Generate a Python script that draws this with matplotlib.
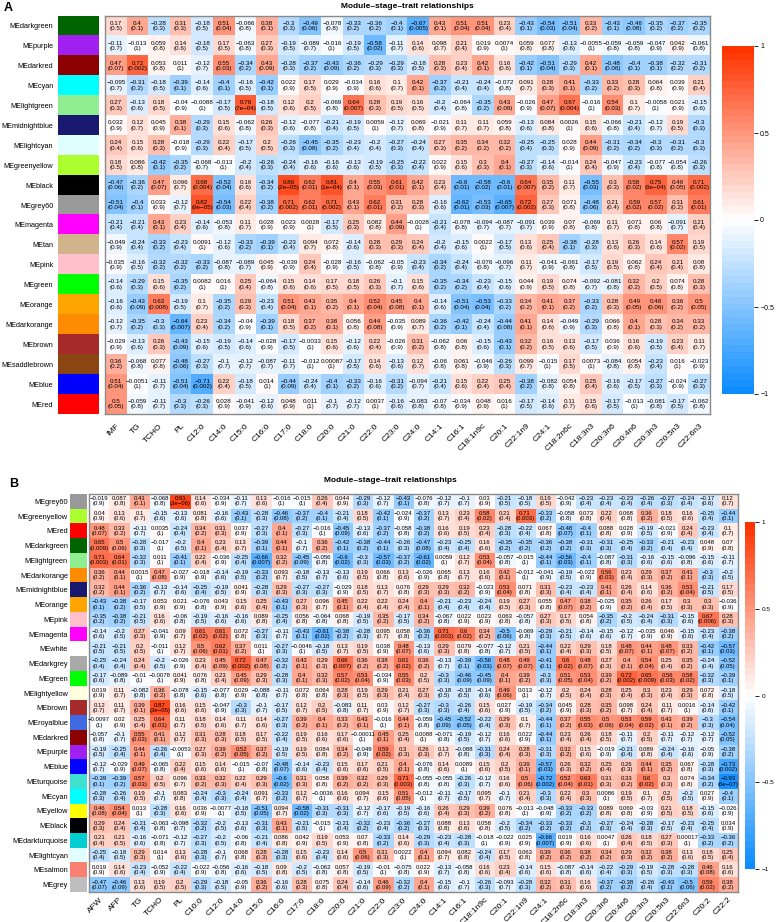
import numpy as np
import matplotlib
matplotlib.use("Agg")
import matplotlib.pyplot as plt
from matplotlib.colors import LinearSegmentedColormap, to_rgb
from matplotlib.cm import ScalarMappable
from matplotlib.colors import Normalize

plt.rcParams['font.family'] = ['Liberation Sans', 'DejaVu Sans']

W, H = 780, 922

# R colour names (WGCNA module colours)
r_colors = {
    'darkgreen': '#006400', 'purple': '#A020F0', 'darkred': '#8B0000', 'cyan': '#00FFFF',
    'lightgreen': '#90EE90', 'midnightblue': '#191970', 'lightcyan': '#E0FFFF',
    'greenyellow': '#ADFF2F', 'black': '#000000', 'grey60': '#999999', 'magenta': '#FF00FF',
    'tan': '#D2B48C', 'pink': '#FFC0CB', 'green': '#00FF00', 'orange': '#FFA500',
    'darkorange': '#FF8C00', 'brown': '#A52A2A', 'saddlebrown': '#8B4513', 'blue': '#0000FF',
    'red': '#FF0000', 'white': '#FFFFFF', 'darkgrey': '#A9A9A9', 'lightyellow': '#FFFFE0',
    'royalblue': '#4169E1', 'turquoise': '#40E0D0', 'yellow': '#FFFF00',
    'darkturquoise': '#00CED1', 'salmon': '#FA8072', 'grey': '#BEBEBE',
}

# ---------------- panel A ----------------
modules_a = ['darkgreen', 'purple', 'darkred', 'cyan', 'lightgreen', 'midnightblue', 'lightcyan',
             'greenyellow', 'black', 'grey60', 'magenta', 'tan', 'pink', 'green', 'orange',
             'darkorange', 'brown', 'saddlebrown', 'blue', 'red']
traits_a = ['IMF', 'TG', 'TCHO', 'PL', 'C12:0', 'C14:0', 'C15:0', 'C16:0', 'C17:0', 'C18:0',
            'C20:0', 'C21:0', 'C22:0', 'C23:0', 'C24:0', 'C14:1', 'C16:1', 'C18:1n9c', 'C20:1',
            'C22:1n9', 'C24:1', 'C18:2n6c', 'C18:3n3', 'C20:3n6', 'C20:4n6', 'C20:3n3',
            'C20:5n3', 'C22:6n3']
cor_a = [
    [0.17, 0.4, -0.28, 0.31, -0.18, 0.51, -0.066, 0.38, -0.3, -0.49, -0.078, -0.33, -0.36, -0.4, -0.67, 0.43, 0.51, 0.51, 0.23, -0.43, -0.54, -0.51, 0.33, -0.43, -0.46, -0.35, -0.37, -0.35],
    [-0.11, -0.013, 0.059, 0.14, -0.18, 0.17, -0.063, 0.27, -0.19, -0.089, -0.016, -0.19, -0.58, -0.11, 0.14, 0.098, 0.21, 0.019, 0.0074, 0.059, 0.077, -0.13, -0.0055, -0.059, -0.059, -0.047, 0.042, -0.061],
    [0.47, 0.72, 0.053, 0.011, -0.12, 0.55, -0.34, 0.43, -0.28, -0.37, -0.43, -0.36, -0.29, -0.29, -0.18, 0.28, 0.23, 0.42, 0.16, -0.42, -0.51, -0.29, 0.42, -0.48, -0.4, -0.38, -0.32, -0.31],
    [-0.095, -0.31, -0.18, -0.39, -0.14, -0.4, -0.16, -0.42, 0.022, 0.17, 0.029, -0.034, 0.16, 0.1, 0.42, -0.37, -0.21, -0.24, -0.072, 0.091, 0.28, 0.41, -0.33, 0.33, 0.28, 0.064, 0.039, 0.21],
    [0.27, -0.13, 0.18, -0.04, -0.0088, -0.17, 0.76, -0.18, 0.12, 0.2, -0.069, 0.64, 0.28, 0.19, 0.16, -0.2, -0.064, -0.35, 0.43, -0.026, 0.47, 0.67, -0.016, 0.54, 0.1, -0.0058, 0.021, -0.15],
    [0.032, 0.12, 0.045, 0.38, -0.29, 0.15, -0.062, 0.26, -0.12, -0.077, -0.21, -0.19, 0.0059, -0.12, 0.069, -0.021, 0.11, 0.11, 0.059, -0.13, 0.084, 0.0026, 0.15, -0.066, -0.21, -0.12, 0.19, -0.3],
    [0.24, 0.15, 0.28, -0.018, -0.29, 0.22, -0.17, 0.2, -0.26, -0.45, -0.35, -0.23, -0.2, -0.27, -0.24, 0.27, 0.35, 0.34, 0.32, -0.25, -0.25, 0.028, 0.44, -0.31, -0.34, -0.3, -0.31, -0.3],
    [0.18, 0.086, -0.42, -0.35, -0.068, -0.013, -0.2, -0.26, -0.24, -0.16, -0.16, -0.13, -0.19, -0.25, -0.22, 0.022, 0.15, 0.3, 0.4, -0.27, -0.14, -0.014, 0.24, -0.047, -0.23, -0.077, -0.054, -0.26],
    [-0.47, -0.36, 0.47, 0.096, 0.68, -0.52, 0.16, -0.34, 0.86, 0.62, 0.81, 0.4, 0.55, 0.61, 0.42, 0.23, -0.6, -0.58, -0.6, 0.64, 0.35, 0.11, -0.55, 0.3, 0.58, 0.75, 0.49, 0.71],
    [-0.51, -0.4, 0.033, -0.12, 0.82, -0.54, 0.22, -0.38, 0.71, 0.62, 0.71, 0.43, 0.62, 0.31, 0.28, -0.16, -0.62, -0.53, -0.65, 0.72, 0.27, 0.071, -0.48, 0.21, 0.59, 0.57, 0.31, 0.61],
    [-0.21, -0.21, 0.43, 0.23, -0.14, -0.053, 0.11, 0.028, 0.023, 0.0028, -0.17, 0.25, 0.082, 0.44, -0.0028, -0.21, -0.078, -0.094, -0.087, -0.091, 0.039, 0.07, -0.069, 0.11, 0.071, 0.06, -0.091, 0.21],
    [-0.049, -0.24, -0.33, -0.23, 0.0091, -0.12, -0.33, -0.39, -0.23, 0.094, 0.072, -0.14, 0.28, 0.29, 0.24, -0.2, -0.15, 0.0022, -0.17, 0.13, 0.25, -0.38, -0.28, 0.13, 0.26, 0.14, 0.57, 0.19],
    [-0.035, -0.16, -0.32, -0.32, -0.33, -0.087, -0.089, 0.045, -0.039, 0.24, -0.028, -0.16, -0.062, -0.05, -0.23, -0.34, -0.24, -0.076, -0.096, 0.11, -0.041, -0.061, -0.17, 0.19, 0.062, 0.24, 0.21, 0.08],
    [-0.14, -0.29, 0.15, -0.35, 0.0082, 0.016, 0.25, -0.064, 0.15, 0.14, 0.17, 0.18, 0.26, -0.1, 0.15, -0.35, -0.34, -0.23, -0.15, 0.044, 0.19, 0.074, -0.092, -0.081, 0.32, 0.2, 0.074, 0.28],
    [-0.16, -0.43, 0.63, -0.19, 0.1, -0.35, 0.29, -0.23, 0.51, 0.43, 0.35, 0.4, 0.52, 0.45, 0.4, -0.14, -0.51, -0.53, -0.33, 0.34, 0.41, 0.37, -0.33, 0.28, 0.49, 0.48, 0.36, 0.5],
    [-0.12, -0.35, -0.3, -0.64, 0.23, -0.34, -0.04, -0.39, 0.18, 0.37, 0.38, 0.056, 0.44, -0.035, 0.089, -0.36, -0.42, -0.24, -0.44, 0.41, 0.14, -0.049, -0.29, 0.066, 0.4, 0.28, 0.34, 0.33],
    [-0.029, -0.13, 0.26, -0.43, -0.15, -0.19, -0.14, -0.028, -0.17, -0.0033, 0.15, -0.12, 0.22, -0.026, 0.31, -0.062, 0.06, -0.15, -0.43, 0.32, 0.16, 0.13, -0.17, 0.036, 0.16, -0.19, 0.23, 0.11],
    [0.36, -0.068, 0.077, -0.48, -0.27, -0.1, -0.12, -0.087, -0.11, -0.012, 0.00087, -0.17, 0.14, -0.13, 0.12, -0.06, 0.061, -0.046, -0.26, 0.099, -0.015, 0.17, 0.0073, -0.084, 0.054, -0.23, 0.016, -0.023],
    [0.51, -0.0051, -0.11, -0.51, -0.71, 0.22, -0.18, 0.014, -0.44, -0.24, -0.4, -0.33, -0.16, -0.31, -0.094, -0.21, 0.15, 0.22, 0.25, -0.38, -0.082, 0.054, 0.25, -0.16, -0.17, -0.27, -0.024, -0.27],
    [0.5, -0.059, -0.11, -0.3, -0.26, 0.028, -0.041, -0.12, 0.048, 0.011, -0.1, -0.12, 0.0037, -0.16, -0.083, -0.07, -0.034, 0.048, 0.016, -0.17, -0.14, 0.11, 0.15, -0.17, -0.013, -0.081, -0.17, -0.062],
]
pval_a = [
    [0.5, 0.1, 0.3, 0.3, 0.5, 0.04, 0.8, 0.1, 0.3, 0.06, 0.8, 0.2, 0.2, 0.1, 0.005, 0.1, 0.04, 0.04, 0.4, 0.1, 0.03, 0.04, 0.2, 0.1, 0.08, 0.2, 0.2, 0.2],
    [0.7, 1, 0.8, 0.6, 0.5, 0.5, 0.8, 0.3, 0.5, 0.7, 1, 0.5, 0.02, 0.7, 0.6, 0.7, 0.4, 0.9, 1, 0.8, 0.8, 0.6, 1, 0.8, 0.8, 0.9, 0.9, 0.8],
    [0.07, 0.002, 0.8, 1, 0.7, 0.03, 0.2, 0.09, 0.3, 0.2, 0.09, 0.2, 0.3, 0.3, 0.5, 0.3, 0.4, 0.1, 0.6, 0.1, 0.04, 0.3, 0.1, 0.06, 0.1, 0.1, 0.2, 0.2],
    [0.7, 0.2, 0.5, 0.1, 0.6, 0.1, 0.5, 0.1, 0.9, 0.5, 0.9, 0.9, 0.6, 0.7, 0.1, 0.2, 0.4, 0.4, 0.8, 0.7, 0.3, 0.1, 0.2, 0.2, 0.3, 0.8, 0.9, 0.4],
    [0.3, 0.6, 0.5, 0.9, 1, 0.5, 7e-4, 0.5, 0.6, 0.5, 0.8, 0.007, 0.3, 0.5, 0.5, 0.4, 0.8, 0.2, 0.09, 0.9, 0.07, 0.004, 1, 0.03, 0.7, 1, 0.9, 0.6],
    [0.9, 0.7, 0.9, 0.1, 0.3, 0.6, 0.8, 0.3, 0.6, 0.8, 0.4, 0.5, 1, 0.7, 0.8, 0.9, 0.7, 0.7, 0.8, 0.6, 0.8, 1, 0.6, 0.8, 0.4, 0.7, 0.5, 0.3],
    [0.4, 0.6, 0.3, 0.9, 0.3, 0.4, 0.5, 0.5, 0.3, 0.08, 0.2, 0.4, 0.4, 0.3, 0.4, 0.3, 0.2, 0.2, 0.2, 0.4, 0.3, 0.9, 0.09, 0.2, 0.2, 0.3, 0.2, 0.3],
    [0.5, 0.8, 0.1, 0.2, 0.7, 1, 0.4, 0.3, 0.4, 0.6, 0.6, 0.6, 0.5, 0.3, 0.4, 0.9, 0.6, 0.3, 0.1, 0.3, 0.6, 1, 0.4, 0.9, 0.4, 0.8, 0.8, 0.3],
    [0.06, 0.2, 0.07, 0.7, 0.004, 0.04, 0.6, 0.2, 2e-5, 0.01, 1e-4, 0.1, 0.03, 0.01, 0.1, 0.4, 0.01, 0.02, 0.01, 0.007, 0.2, 0.7, 0.03, 0.3, 0.02, 9e-4, 0.05, 0.002],
    [0.04, 0.1, 0.9, 0.7, 9e-5, 0.03, 0.4, 0.2, 0.002, 0.01, 0.002, 0.1, 0.01, 0.2, 0.3, 0.6, 0.01, 0.03, 0.007, 0.002, 0.3, 0.8, 0.06, 0.4, 0.02, 0.02, 0.2, 0.01],
    [0.4, 0.4, 0.1, 0.4, 0.6, 0.8, 0.7, 0.9, 0.9, 1, 0.5, 0.3, 0.8, 0.09, 1, 0.4, 0.8, 0.7, 0.7, 0.7, 0.9, 0.8, 0.8, 0.7, 0.8, 0.8, 0.7, 0.4],
    [0.9, 0.4, 0.2, 0.4, 1, 0.6, 0.2, 0.1, 0.4, 0.7, 0.8, 0.6, 0.3, 0.3, 0.4, 0.4, 0.6, 1, 0.5, 0.6, 0.4, 0.1, 0.3, 0.6, 0.3, 0.6, 0.02, 0.5],
    [0.9, 0.5, 0.2, 0.2, 0.2, 0.8, 0.7, 0.9, 0.9, 0.4, 0.9, 0.5, 0.8, 0.9, 0.4, 0.2, 0.4, 0.8, 0.7, 0.7, 0.9, 0.8, 0.5, 0.5, 0.8, 0.4, 0.4, 0.8],
    [0.6, 0.3, 0.6, 0.2, 1, 1, 0.4, 0.8, 0.6, 0.6, 0.5, 0.5, 0.3, 0.7, 0.6, 0.2, 0.2, 0.4, 0.6, 0.9, 0.5, 0.8, 0.7, 0.8, 0.2, 0.5, 0.8, 0.3],
    [0.6, 0.09, 0.008, 0.5, 0.7, 0.2, 0.3, 0.4, 0.04, 0.1, 0.2, 0.1, 0.04, 0.08, 0.1, 0.6, 0.04, 0.04, 0.2, 0.2, 0.1, 0.2, 0.2, 0.3, 0.05, 0.06, 0.2, 0.05],
    [0.7, 0.2, 0.3, 0.007, 0.4, 0.2, 0.9, 0.1, 0.5, 0.2, 0.1, 0.8, 0.08, 0.9, 0.7, 0.2, 0.1, 0.4, 0.08, 0.1, 0.6, 0.9, 0.3, 0.8, 0.1, 0.3, 0.2, 0.2],
    [0.9, 0.6, 0.3, 0.09, 0.6, 0.5, 0.6, 0.9, 0.5, 1, 0.6, 0.6, 0.4, 0.9, 0.2, 0.8, 0.8, 0.6, 0.1, 0.2, 0.5, 0.6, 0.5, 0.9, 0.6, 0.5, 0.4, 0.7],
    [0.2, 0.8, 0.8, 0.06, 0.3, 0.7, 0.7, 0.7, 0.7, 1, 1, 0.5, 0.6, 0.6, 0.7, 0.8, 0.8, 0.9, 0.3, 0.7, 1, 0.5, 1, 0.8, 0.8, 0.4, 1, 0.9],
    [0.04, 1, 0.7, 0.04, 0.002, 0.4, 0.5, 1, 0.09, 0.4, 0.1, 0.2, 0.6, 0.2, 0.7, 0.4, 0.6, 0.4, 0.4, 0.2, 0.8, 0.8, 0.4, 0.6, 0.5, 0.3, 0.9, 0.3],
    [0.05, 0.8, 0.7, 0.3, 0.3, 0.9, 0.9, 0.6, 0.9, 1, 0.7, 0.7, 1, 0.6, 0.8, 0.8, 0.9, 0.9, 1, 0.5, 0.6, 0.7, 0.6, 0.5, 1, 0.8, 0.5, 0.8],
]

# ---------------- panel B ----------------
modules_b = ['grey60', 'greenyellow', 'red', 'darkgreen', 'lightgreen', 'darkorange', 'midnightblue',
             'orange', 'pink', 'magenta', 'white', 'darkgrey', 'green', 'lightyellow', 'brown',
             'royalblue', 'darkred', 'purple', 'blue', 'turquoise', 'cyan', 'yellow', 'black',
             'darkturquoise', 'lightcyan', 'salmon', 'grey']
traits_b = ['AFW', 'AFP', 'TG', 'TCHO', 'PL', 'C10:0', 'C12:0', 'C14:0', 'C15:0', 'C16:0', 'C17:0',
            'C18:0', 'C20:0', 'C21:0', 'C22:0', 'C23:0', 'C24:0', 'C14:1', 'C16:1', 'C18:1n9c',
            'C20:1', 'C22:1n9', 'C24:1', 'C18:2n6c', 'C18:3n3', 'C20:3n6', 'C20:4n6', 'C20:3n3',
            'C20:5n3', 'C22:6n3', 'C20:2', 'C22:2']
cor_b = [
    [-0.019, 0.087, 0.41, -0.068, 0.91, 0.14, -0.034, -0.11, 0.13, -0.016, -0.015, 0.26, 0.044, -0.29, -0.12, -0.43, -0.076, -0.12, -0.1, 0.03, -0.21, -0.18, 0.19, -0.042, -0.23, -0.23, -0.23, -0.26, -0.27, -0.24, -0.17, 0.12],
    [0.04, 0.13, 0.1, -0.15, -0.13, 0.081, -0.16, -0.43, -0.28, -0.46, -0.37, -0.4, -0.21, 0.18, -0.42, -0.024, -0.37, 0.13, 0.23, 0.58, 0.21, 0.71, -0.33, -0.058, 0.073, 0.22, 0.068, 0.36, 0.18, 0.16, -0.25, -0.44],
    [0.48, 0.33, -0.11, 0.0035, -0.24, 0.34, 0.31, 0.037, -0.27, 0.4, -0.27, -0.016, -0.45, -0.13, -0.37, -0.058, -0.38, 0.16, 0.19, 0.23, -0.28, -0.22, 0.067, -0.48, -0.4, 0.088, 0.028, -0.19, -0.021, 0.24, -0.23, 0.1],
    [0.65, 0.5, -0.28, -0.017, -0.2, 0.4, 0.23, 0.13, -0.39, 0.44, -0.1, 0.36, -0.42, -0.38, -0.44, -0.26, -0.47, -0.23, -0.25, 0.16, -0.35, -0.35, -0.36, -0.38, -0.31, -0.31, -0.25, -0.33, -0.21, -0.23, 0.048, 0.07],
    [0.71, 0.64, -0.32, 0.011, -0.41, 0.22, -0.036, -0.25, -0.66, 0.32, -0.45, -0.056, -0.6, -0.3, -0.57, -0.37, -0.61, 0.0059, 0.12, 0.53, -0.057, -0.015, -0.44, -0.56, -0.4, -0.087, -0.31, -0.16, -0.15, -0.096, -0.15, -0.11],
    [0.36, 0.44, 0.0015, 0.47, -0.027, -0.018, -0.14, -0.19, -0.33, 0.093, -0.18, -0.13, -0.13, 0.19, 0.066, 0.13, -0.026, 0.065, 0.13, 0.16, 0.42, -0.012, -0.041, -0.19, -0.022, 0.56, 0.23, 0.29, 0.37, 0.41, -0.3, -0.2],
    [0.32, 0.44, -0.36, -0.13, -0.14, -0.25, -0.19, 0.041, -0.28, 0.29, -0.27, -0.27, -0.029, 0.18, 0.13, 0.076, 0.29, 0.29, 0.32, -0.023, 0.53, 0.071, 0.31, -0.23, -0.23, 0.41, 0.26, 0.14, 0.36, 0.53, -0.21, 0.17],
    [-0.43, -0.38, -0.17, 0.053, 0.021, -0.076, 0.043, 0.15, 0.25, -0.43, 0.27, 0.096, 0.45, 0.22, 0.22, 0.24, 0.4, -0.21, -0.23, -0.24, 0.19, 0.27, 0.055, 0.47, 0.38, -0.025, 0.35, 0.26, 0.17, 0.3, 0.3, -0.036],
    [-0.35, -0.38, -0.21, 0.16, -0.06, -0.19, -0.16, -0.16, 0.089, -0.25, 0.056, -0.064, 0.068, -0.19, 0.35, -0.17, 0.34, -0.067, 0.022, 0.023, 0.063, -0.057, 0.27, 0.17, 0.054, -0.35, -0.2, -0.24, -0.31, -0.15, 0.67, 0.28],
    [-0.14, -0.2, 0.27, -0.041, 0.09, 0.61, 0.61, 0.072, -0.27, -0.11, -0.43, -0.61, -0.38, -0.28, 0.095, 0.058, -0.36, 0.71, 0.6, 0.34, -0.5, -0.069, -0.29, -0.21, -0.14, -0.15, -0.12, -0.035, 0.046, -0.15, -0.23, -0.38],
    [-0.21, -0.21, 0.2, -0.011, 0.12, 0.5, 0.62, 0.37, 0.011, -0.27, -0.0046, -0.18, 0.13, 0.19, 0.038, 0.48, -0.13, 0.29, 0.079, -0.077, -0.12, 0.21, -0.44, 0.22, 0.29, 0.18, 0.48, 0.44, 0.48, 0.33, -0.42, -0.57],
    [-0.25, -0.24, 0.24, -0.2, -0.026, 0.23, 0.45, 0.72, 0.47, -0.32, 0.43, 0.29, 0.66, 0.36, 0.38, 0.61, 0.36, -0.13, -0.39, -0.56, 0.48, 0.49, -0.41, 0.6, 0.48, 0.27, 0.4, 0.54, 0.25, 0.35, -0.24, -0.52],
    [-0.17, -0.089, -0.01, -0.0078, 0.041, 0.076, 0.23, 0.45, 0.29, -0.28, 0.4, 0.32, 0.57, 0.53, -0.034, 0.55, 0.2, -0.3, -0.46, -0.45, 0.4, 0.39, -0.3, 0.51, 0.53, 0.39, 0.72, 0.65, 0.56, 0.58, -0.32, -0.39],
    [0.019, 0.11, -0.082, 0.36, -0.078, -0.15, -0.077, 0.029, -0.088, -0.11, 0.072, 0.064, 0.28, 0.19, 0.29, 0.21, 0.27, -0.18, -0.18, -0.14, 0.49, 0.013, -0.12, 0.2, 0.24, 0.28, 0.25, 0.3, 0.23, 0.29, 0.072, -0.18],
    [0.12, 0.11, 0.39, 0.87, 0.16, 0.15, -0.047, -0.3, -0.1, -0.17, 0.12, 0.2, -0.083, 0.11, 0.03, 0.12, -0.27, -0.3, -0.26, 0.15, 0.027, -0.19, -0.34, 0.045, 0.28, 0.35, 0.098, 0.24, 0.11, 0.0016, -0.14, -0.42],
    [-0.0097, 0.02, 0.25, 0.64, 0.11, 0.18, 0.14, 0.11, 0.14, -0.27, 0.39, 0.4, 0.33, 0.43, -0.016, 0.44, -0.059, -0.45, -0.52, -0.22, 0.29, 0.1, -0.44, 0.37, 0.55, 0.5, 0.53, 0.59, 0.43, 0.39, -0.3, -0.54],
    [-0.057, -0.1, 0.55, 0.41, 0.12, 0.31, 0.28, 0.18, 0.17, -0.22, 0.19, 0.16, 0.17, -0.00011, 0.45, 0.25, 0.0088, -0.071, -0.19, -0.12, 0.16, 0.022, -0.44, 0.23, 0.26, 0.18, -0.11, 0.2, -0.11, -0.12, -0.12, -0.52],
    [-0.19, -0.25, 0.44, -0.26, -0.0053, 0.27, 0.39, 0.52, 0.37, -0.19, 0.19, 0.084, 0.34, -0.049, 0.59, 0.3, 0.26, 0.13, -0.088, -0.31, 0.24, 0.28, -0.31, 0.32, 0.15, -0.019, -0.21, 0.089, -0.24, -0.16, -0.05, -0.38],
    [-0.12, -0.029, 0.49, -0.065, 0.22, 0.15, 0.14, -0.015, -0.07, -0.48, -0.14, -0.23, 0.15, 0.17, 0.21, 0.4, -0.076, 0.14, 0.0089, 0.15, 0.2, 0.39, -0.57, 0.26, 0.32, 0.25, 0.26, 0.44, 0.35, 0.067, -0.28, -0.73],
    [-0.39, -0.39, 0.57, 0.2, 0.096, 0.33, 0.32, 0.22, 0.29, -0.6, 0.31, 0.058, 0.39, 0.32, 0.29, 0.71, -0.055, -0.055, -0.26, -0.12, 0.16, 0.5, -0.72, 0.52, 0.63, 0.31, 0.33, 0.6, 0.3, 0.074, -0.34, -0.93],
    [-0.28, -0.26, 0.19, -0.1, 0.083, -0.24, -0.3, -0.24, 0.091, -0.33, 0.12, -0.0036, 0.16, 0.094, 0.15, 0.51, -0.012, -0.11, -0.17, 0.095, -0.1, 0.21, -0.3, 0.22, 0.3, 0.0086, 0.19, 0.1, 0.2, -0.2, 0.027, -0.4],
    [0.46, 0.54, 0.013, -0.28, 0.16, 0.036, -0.0077, -0.18, -0.51, 0.094, -0.58, -0.31, -0.31, -0.12, -0.17, -0.19, -0.16, 0.26, 0.29, 0.39, 0.076, -0.013, -0.048, -0.33, -0.33, 0.089, 0.069, -0.03, 0.21, 0.18, -0.15, -0.026],
    [0.29, 0.24, -0.21, -0.063, -0.098, -0.32, -0.2, -0.13, -0.31, 0.43, -0.21, -0.015, -0.21, -0.32, -0.23, -0.36, -0.27, 0.088, 0.13, 0.058, -0.2, -0.34, -0.33, -0.33, -0.3, -0.27, -0.24, -0.28, -0.17, -0.23, -0.25, 0.034],
    [0.21, 0.21, -0.16, -0.071, -0.12, -0.27, -0.2, -0.06, -0.21, 0.086, 0.042, 0.19, 0.053, 0.07, -0.33, 0.14, -0.29, -0.23, -0.28, -0.018, -0.022, 0.025, -0.66, 0.019, 0.16, 0.0047, 0.26, 0.18, 0.27, 0.00017, -0.33, -0.36],
    [-0.25, -0.18, 0.29, 0.014, 0.13, -0.28, -0.1, 0.068, 0.28, -0.28, 0.15, -0.23, 0.14, 0.5, 0.31, 0.0022, 0.4, 0.094, 0.082, -0.24, 0.17, 0.063, 0.39, 0.36, 0.38, 0.34, 0.29, 0.32, 0.38, 0.13, 0.18, 0.25],
    [0.019, 0.14, -0.23, -0.052, -0.22, -0.022, -0.056, -0.16, -0.18, 0.09, -0.2, -0.062, 0.057, -0.19, -0.01, -0.075, 0.022, -0.13, -0.058, 0.16, 0.23, -0.14, 0.15, -0.087, -0.14, -0.22, -0.29, -0.19, -0.28, -0.28, 0.46, 0.16],
    [-0.47, -0.46, 0.13, 0.19, 0.2, -0.29, -0.18, -0.05, 0.36, -0.16, 0.28, 0.075, 0.24, -0.14, 0.46, -0.32, 0.4, -0.15, -0.1, -0.26, -0.093, -0.28, 0.32, 0.31, 0.16, -0.37, -0.38, -0.26, -0.43, -0.5, 0.59, 0.38],
]
pval_b = [
    [0.9, 0.8, 0.1, 0.8, 3e-6, 0.6, 0.9, 0.7, 0.6, 1, 1, 0.4, 0.9, 0.3, 0.7, 0.1, 0.8, 0.7, 0.7, 0.9, 0.5, 0.5, 0.5, 0.9, 0.4, 0.4, 0.4, 0.4, 0.3, 0.4, 0.6, 0.7],
    [0.9, 0.6, 0.7, 0.6, 0.6, 0.8, 0.6, 0.1, 0.3, 0.08, 0.2, 0.1, 0.4, 0.5, 0.1, 0.9, 0.2, 0.7, 0.4, 0.02, 0.4, 0.003, 0.2, 0.8, 0.8, 0.4, 0.8, 0.2, 0.5, 0.6, 0.4, 0.1],
    [0.07, 0.2, 0.7, 1, 0.4, 0.2, 0.3, 0.9, 0.3, 0.1, 0.3, 1, 0.09, 0.6, 0.2, 0.8, 0.2, 0.6, 0.5, 0.4, 0.3, 0.4, 0.8, 0.07, 0.1, 0.8, 0.9, 0.5, 0.9, 0.4, 0.4, 0.7],
    [0.009, 0.06, 0.3, 1, 0.5, 0.1, 0.4, 0.7, 0.1, 0.1, 0.7, 0.2, 0.1, 0.2, 0.1, 0.3, 0.08, 0.4, 0.4, 0.6, 0.2, 0.2, 0.2, 0.2, 0.3, 0.3, 0.4, 0.2, 0.4, 0.4, 0.9, 0.8],
    [0.003, 0.01, 0.3, 1, 0.1, 0.4, 0.9, 0.4, 0.007, 0.2, 0.09, 0.8, 0.02, 0.3, 0.03, 0.2, 0.02, 1, 0.7, 0.04, 0.8, 1, 0.1, 0.03, 0.1, 0.8, 0.3, 0.6, 0.6, 0.8, 0.6, 0.7],
    [0.2, 0.1, 1, 0.08, 0.9, 0.9, 0.6, 0.5, 0.2, 0.7, 0.5, 0.7, 0.6, 0.5, 0.8, 0.6, 0.9, 0.8, 0.7, 0.6, 0.1, 1, 0.9, 0.5, 0.9, 0.03, 0.4, 0.3, 0.2, 0.1, 0.3, 0.5],
    [0.2, 0.1, 0.2, 0.7, 0.6, 0.4, 0.5, 0.9, 0.3, 0.3, 0.3, 0.3, 0.9, 0.5, 0.7, 0.8, 0.3, 0.3, 0.2, 0.9, 0.04, 0.8, 0.3, 0.4, 0.4, 0.1, 0.4, 0.6, 0.2, 0.04, 0.5, 0.5],
    [0.1, 0.2, 0.5, 0.9, 0.9, 0.8, 0.9, 0.6, 0.4, 0.1, 0.3, 0.7, 0.1, 0.4, 0.4, 0.4, 0.1, 0.4, 0.4, 0.4, 0.5, 0.3, 0.8, 0.07, 0.2, 0.9, 0.2, 0.4, 0.5, 0.3, 0.3, 0.9],
    [0.2, 0.2, 0.5, 0.6, 0.8, 0.5, 0.6, 0.6, 0.8, 0.4, 0.8, 0.8, 0.8, 0.5, 0.2, 0.5, 0.2, 0.8, 0.9, 0.9, 0.8, 0.8, 0.3, 0.5, 0.8, 0.2, 0.5, 0.4, 0.3, 0.6, 0.006, 0.3],
    [0.6, 0.5, 0.3, 0.9, 0.7, 0.02, 0.02, 0.8, 0.3, 0.7, 0.1, 0.02, 0.2, 0.3, 0.7, 0.8, 0.2, 0.003, 0.02, 0.2, 0.06, 0.8, 0.3, 0.5, 0.6, 0.6, 0.7, 0.9, 0.9, 0.6, 0.4, 0.2],
    [0.5, 0.5, 0.5, 1, 0.7, 0.06, 0.01, 0.2, 1, 0.3, 1, 0.5, 0.7, 0.5, 0.9, 0.07, 0.6, 0.3, 0.8, 0.8, 0.7, 0.5, 0.1, 0.4, 0.3, 0.5, 0.07, 0.1, 0.07, 0.2, 0.1, 0.03],
    [0.4, 0.4, 0.4, 0.5, 0.9, 0.4, 0.09, 0.002, 0.08, 0.2, 0.1, 0.3, 0.007, 0.2, 0.2, 0.02, 0.2, 0.7, 0.1, 0.03, 0.07, 0.07, 0.1, 0.02, 0.07, 0.3, 0.1, 0.04, 0.4, 0.2, 0.4, 0.05],
    [0.6, 0.8, 1, 1, 0.9, 0.8, 0.4, 0.09, 0.3, 0.3, 0.1, 0.3, 0.02, 0.04, 0.9, 0.03, 0.5, 0.3, 0.09, 0.09, 0.1, 0.2, 0.3, 0.05, 0.04, 0.2, 0.002, 0.009, 0.03, 0.02, 0.3, 0.1],
    [0.9, 0.7, 0.8, 0.2, 0.8, 0.6, 0.8, 0.9, 0.8, 0.7, 0.8, 0.8, 0.3, 0.5, 0.3, 0.4, 0.3, 0.5, 0.5, 0.6, 0.06, 1, 0.7, 0.5, 0.4, 0.3, 0.4, 0.3, 0.4, 0.3, 0.8, 0.5],
    [0.7, 0.7, 0.1, 3e-5, 0.6, 0.6, 0.9, 0.3, 0.7, 0.5, 0.7, 0.5, 0.8, 0.7, 0.9, 0.7, 0.3, 0.3, 0.4, 0.6, 0.9, 0.5, 0.2, 0.9, 0.3, 0.2, 0.7, 0.4, 0.7, 1, 0.6, 0.1],
    [1, 0.9, 0.4, 0.01, 0.7, 0.5, 0.6, 0.7, 0.6, 0.3, 0.2, 0.1, 0.2, 0.1, 1, 0.1, 0.8, 0.09, 0.05, 0.4, 0.3, 0.7, 0.1, 0.2, 0.03, 0.06, 0.04, 0.02, 0.1, 0.2, 0.3, 0.04],
    [0.8, 0.7, 0.03, 0.1, 0.7, 0.3, 0.3, 0.5, 0.5, 0.4, 0.5, 0.6, 0.6, 1, 0.1, 0.4, 1, 0.8, 0.5, 0.7, 0.6, 0.9, 0.1, 0.4, 0.4, 0.5, 0.7, 0.5, 0.7, 0.7, 0.7, 0.05],
    [0.5, 0.4, 0.1, 0.4, 1, 0.3, 0.2, 0.05, 0.2, 0.5, 0.5, 0.8, 0.2, 0.9, 0.02, 0.3, 0.3, 0.7, 0.8, 0.3, 0.4, 0.3, 0.3, 0.2, 0.6, 0.9, 0.4, 0.8, 0.4, 0.6, 0.9, 0.2],
    [0.7, 0.9, 0.07, 0.8, 0.4, 0.6, 0.6, 1, 0.8, 0.07, 0.6, 0.4, 0.6, 0.6, 0.5, 0.1, 0.8, 0.6, 1, 0.6, 0.5, 0.1, 0.03, 0.3, 0.2, 0.4, 0.3, 0.1, 0.2, 0.8, 0.3, 0.002],
    [0.1, 0.2, 0.03, 0.5, 0.7, 0.2, 0.3, 0.4, 0.3, 0.02, 0.3, 0.8, 0.2, 0.2, 0.3, 0.003, 0.8, 0.8, 0.3, 0.7, 0.6, 0.06, 0.002, 0.04, 0.01, 0.3, 0.2, 0.02, 0.3, 0.8, 0.2, 6e-7],
    [0.3, 0.4, 0.5, 0.7, 0.8, 0.4, 0.3, 0.4, 0.7, 0.2, 0.7, 1, 0.6, 0.7, 0.6, 0.05, 1, 0.7, 0.5, 0.7, 0.7, 0.4, 0.3, 0.4, 0.3, 1, 0.5, 0.7, 0.5, 0.5, 0.9, 0.1],
    [0.08, 0.04, 1, 0.3, 0.6, 0.9, 1, 0.5, 0.05, 0.7, 0.02, 0.3, 0.3, 0.7, 0.6, 0.5, 0.6, 0.4, 0.3, 0.2, 0.8, 1, 0.9, 0.2, 0.2, 0.8, 0.8, 0.9, 0.5, 0.5, 0.6, 0.9],
    [0.3, 0.4, 0.4, 0.8, 0.7, 0.2, 0.5, 0.6, 0.3, 0.1, 0.5, 1, 0.4, 0.2, 0.4, 0.2, 0.3, 0.8, 0.6, 0.8, 0.5, 0.2, 0.2, 0.2, 0.2, 0.3, 0.4, 0.3, 0.5, 0.4, 0.4, 0.9],
    [0.4, 0.5, 0.6, 0.8, 0.7, 0.3, 0.5, 0.8, 0.4, 0.8, 0.9, 0.5, 0.9, 0.8, 0.2, 0.6, 0.3, 0.4, 0.3, 1, 0.9, 0.9, 0.007, 0.9, 0.6, 1, 0.4, 0.5, 0.3, 1, 0.2, 0.2],
    [0.4, 0.5, 0.3, 1, 0.6, 0.3, 0.7, 0.8, 0.3, 0.3, 0.6, 0.4, 0.6, 0.06, 0.3, 1, 0.1, 0.7, 0.8, 0.4, 0.5, 0.8, 0.2, 0.2, 0.2, 0.2, 0.3, 0.2, 0.2, 0.6, 0.5, 0.4],
    [0.9, 0.6, 0.4, 0.9, 0.4, 0.9, 0.8, 0.6, 0.5, 0.8, 0.5, 0.8, 0.8, 0.5, 1, 0.8, 0.9, 0.7, 0.8, 0.6, 0.4, 0.6, 0.6, 0.8, 0.6, 0.4, 0.3, 0.5, 0.3, 0.3, 0.08, 0.6],
    [0.07, 0.09, 0.6, 0.5, 0.5, 0.3, 0.5, 0.9, 0.2, 0.6, 0.3, 0.8, 0.4, 0.6, 0.09, 0.2, 0.1, 0.6, 0.7, 0.3, 0.7, 0.3, 0.2, 0.3, 0.6, 0.2, 0.2, 0.4, 0.1, 0.06, 0.02, 0.2],
]

# blueWhiteRed like WGCNA
cmap = LinearSegmentedColormap.from_list('bwr', ['#0d8cff', '#ffffff', '#ff3300'], N=50)


def fmt_r(v):
    s = np.format_float_positional(v, trim='-')
    return s.replace('-', '\u2212')


def fmt_p(p):
    fixed = np.format_float_positional(p, trim='-')
    sci = f"{p:.0e}"
    return fixed if len(fixed) <= len(sci) else sci.replace('-', '\u2212')


def box(fig, left, top, width, height):
    return fig.add_axes([left / W, 1 - (top + height) / H, width / W, height / H])


def panel(fig, hm, sq, cb, modules, traits, cor, pval, fs, ls, xpad, ypad, lab_fs, cb_fs):
    cor = np.array(cor)
    ax = box(fig, *hm)
    ax.imshow(cor, cmap=cmap, vmin=-1, vmax=1, aspect='auto', interpolation='nearest')
    for i in range(cor.shape[0]):
        for j in range(cor.shape[1]):
            ax.text(j, i, fmt_r(cor[i, j]) + "\n(" + fmt_p(pval[i][j]) + ")",
                    ha='center', va='center', fontsize=fs, linespacing=ls)
    ax.set_yticks([])
    ax.set_xticks(np.arange(len(traits)))
    ax.set_xticklabels(traits, rotation=45, ha='right', rotation_mode='anchor', fontsize=6)
    ax.tick_params(axis='x', length=0, pad=xpad)
    for s in ax.spines.values():
        s.set_color('#8a8a8a')
        s.set_linewidth(1.0)

    # module colour squares with names
    axs = box(fig, *sq)
    axs.imshow(np.array([[to_rgb(r_colors[m])] for m in modules]), aspect='auto',
               interpolation='nearest')
    axs.set_xticks([])
    axs.set_yticks(np.arange(len(modules)))
    axs.set_yticklabels(['ME' + m for m in modules], fontsize=lab_fs)
    axs.tick_params(axis='y', length=0, pad=ypad)
    for s in axs.spines.values():
        s.set_visible(False)

    cax = box(fig, *cb)
    cbar = fig.colorbar(ScalarMappable(norm=Normalize(-1, 1), cmap=cmap), cax=cax,
                        ticks=[-1, -0.5, 0, 0.5, 1])
    cbar.ax.set_yticklabels(['\u22121', '\u22120.5', '0', '0.5', '1'])
    cbar.ax.tick_params(labelsize=cb_fs, length=3, width=0.6, pad=1.5)
    cbar.outline.set_visible(False)
    return ax


fig = plt.figure(figsize=(W / 100, H / 100), dpi=100)

panel(fig, (105, 16, 605, 398), (58, 16, 41, 398), (722, 46, 32, 348),
      modules_a, traits_a, cor_a, pval_a, 4.5, 1.1, 6, 3.5, 5.2, 5)
panel(fig, (89, 494, 649, 398), (70, 494, 17, 398), (745, 522, 10, 347),
      modules_b, traits_b, cor_b, pval_b, 4.3, 1.05, 3, 1.5, 5.3, 4.6)

fig.text(407 / W, 1 - 7 / H, 'Module\u2013stage\u2013trait relationships', ha='center',
         va='center', fontsize=6, fontweight='bold')
fig.text(390 / W, 1 - 481 / H, 'Module\u2013stage\u2013trait relationships', ha='center',
         va='center', fontsize=6, fontweight='bold')
fig.text(4 / W, 1 - 8 / H, 'A', ha='left', va='center', fontsize=9, fontweight='bold')
fig.text(9 / W, 1 - 484 / H, 'B', ha='left', va='center', fontsize=9, fontweight='bold')

fig.savefig('out.png', dpi=100)
